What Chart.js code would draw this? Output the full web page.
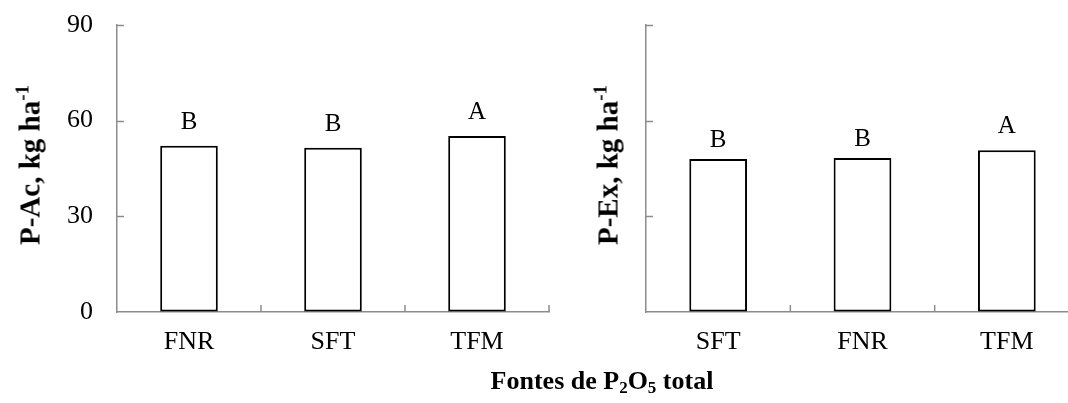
<!DOCTYPE html>
<html>
<head>
<meta charset="utf-8">
<script src="https://cdn.jsdelivr.net/npm/chart.js@4"></script>
<style>
  html, body { margin: 0; padding: 0; background: #fff; }
  #wrap { position: relative; width: 1068px; height: 403px; overflow: hidden; }
  .pane { position: absolute; top: 0; height: 403px; }
  .ytitle {
    position: absolute; font: bold 29px "Liberation Serif", serif; color: #000;
    white-space: nowrap; transform: translate(-50%, -50%) rotate(-90deg);
  }
  .ytitle sup { font-size: 19px; vertical-align: 11px; line-height: 0; }
  #xtitle {
    position: absolute; left: 602px; top: 381px; transform: translate(-50%, -50%);
    font: bold 26px "Liberation Serif", serif; white-space: nowrap; color: #000;
  }
  #xtitle sub { font-size: 17px; vertical-align: -4px; line-height: 0; }
</style>
</head>
<body>
<div id="wrap">
  <div class="pane" style="left:0;width:560px"><canvas id="leftChart"></canvas></div>
  <div class="pane" style="left:560px;width:530px"><canvas id="rightChart"></canvas></div>
  <div class="ytitle" style="left:30px;top:165px">P-Ac, kg ha<sup>-1</sup></div>
  <div class="ytitle" style="left:608px;top:165px">P-Ex, kg ha<sup>-1</sup></div>
  <div id="xtitle">Fontes de P<sub>2</sub>O<sub>5</sub> total</div>
</div>
<script>
'use strict';

// ── Data ──
const leftCats = ['FNR', 'SFT', 'TFM'];
const leftVals = [52.1, 51.5, 55.2];
const leftLetters = ['B', 'B', 'A'];

const rightCats = ['SFT', 'FNR', 'TFM'];
const rightVals = [48.0, 48.3, 50.7];
const rightLetters = ['B', 'B', 'A'];

const yTicks = [0, 30, 60, 90];

const AXIS = '#8c8c8c';
const FONT = "'Liberation Serif', serif";

// inward tick marks + letters over bars
const decorPlugin = {
  id: 'decor',
  afterDatasetsDraw(chart, args, opts) {
    const { ctx, chartArea: a, scales } = chart;
    ctx.save();
    ctx.strokeStyle = AXIS;
    ctx.lineWidth = 1.5;
    yTicks.forEach((v) => {
      if (v === 0) return;
      const y = Math.round(scales.y.getPixelForValue(v)) + 0.5;
      ctx.beginPath(); ctx.moveTo(a.left, y); ctx.lineTo(a.left + 7, y); ctx.stroke();
    });
    const n = chart.data.labels.length;
    for (let i = 1; i <= n; i++) {
      const x = a.left + i * (a.right - a.left) / n;
      ctx.beginPath(); ctx.moveTo(x, a.bottom); ctx.lineTo(x, a.bottom - 7); ctx.stroke();
    }
    ctx.fillStyle = '#000';
    ctx.font = '25px ' + FONT;
    ctx.textAlign = 'center';
    ctx.textBaseline = 'alphabetic';
    chart.getDatasetMeta(0).data.forEach((bar, i) => {
      ctx.fillText(opts.letters[i], bar.x, bar.y - opts.gaps[i]);
    });
    ctx.restore();
  },
};

function makeChart(id, cats, vals, letters, gaps, yWidth, showY) {
  return new Chart(document.getElementById(id), {
    type: 'bar',
    data: {
      labels: cats,
      datasets: [{
        data: vals,
        backgroundColor: '#fff',
        borderColor: '#000',
        borderWidth: 2,
        borderSkipped: false,
        barPercentage: 0.4,
        categoryPercentage: 1,
      }],
    },
    options: {
      responsive: true, maintainAspectRatio: false, animation: false,
      layout: { padding: { top: 25, right: 11, left: 0, bottom: 0 } },
      plugins: {
        legend: { display: false },
        tooltip: { enabled: false },
        decor: { letters: letters, gaps: gaps },
      },
      scales: {
        x: {
          offset: true,
          grid: { display: true, drawOnChartArea: false, drawTicks: false, offset: true },
          border: { color: AXIS, width: 1.5 },
          ticks: { color: '#000', font: { family: FONT, size: 26 }, padding: 15 },
          afterFit: (s) => { s.height = 91; s.paddingLeft = 0; s.paddingRight = 0; },
        },
        y: {
          min: 0, max: 90,
          grid: { display: true, drawOnChartArea: false, drawTicks: false },
          border: { color: AXIS, width: 1.5 },
          afterBuildTicks: (s) => { s.ticks = yTicks.map((v) => ({ value: v })); },
          ticks: { display: showY, color: '#000', font: { family: FONT, size: 26 }, padding: 24 },
          afterFit: (s) => { s.width = yWidth; s.paddingTop = 0; s.paddingBottom = 0; },
        },
      },
    },
    plugins: [decorPlugin],
  });
}

makeChart('leftChart', leftCats, leftVals, leftLetters, [17, 17, 17], 117, true);
makeChart('rightChart', rightCats, rightVals, rightLetters, [12, 12, 17], 86, false);
</script>
</body>
</html>
